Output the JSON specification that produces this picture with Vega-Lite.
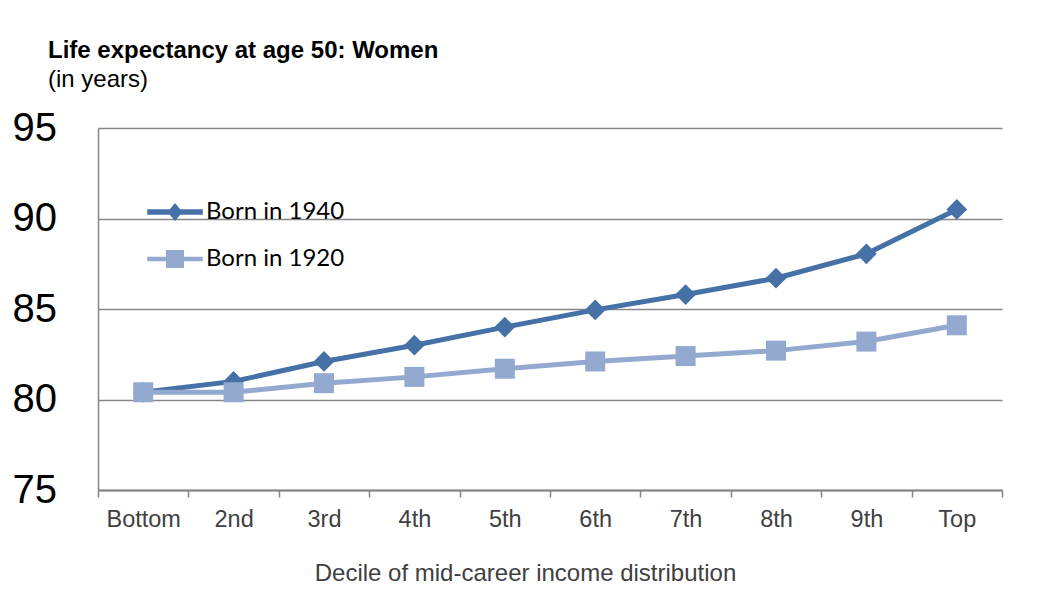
{
  "$schema": "https://vega.github.io/schema/vega-lite/v6.json",
  "width": 904,
  "height": 362,
  "padding": {"left": 12, "top": 39, "right": 40, "bottom": 10},
  "background": "white",
  "config": {
    "view": {"stroke": null},
    "font": "Liberation Sans"
  },
  "title": {
    "text": "Life expectancy at age 50: Women",
    "subtitle": "(in years)",
    "anchor": "start",
    "frame": "group",
    "dx": -50,
    "offset": 16,
    "font": "Liberation Sans",
    "fontSize": 24,
    "fontWeight": "bold",
    "color": "#000000",
    "subtitleFont": "Liberation Sans",
    "subtitleFontSize": 24,
    "subtitleColor": "#000000",
    "subtitlePadding": 5
  },
  "data": {
    "values": [
      {"decile": "Bottom", "series": "Born in 1940", "years": 80.4},
      {"decile": "2nd", "series": "Born in 1940", "years": 81.0},
      {"decile": "3rd", "series": "Born in 1940", "years": 82.1},
      {"decile": "4th", "series": "Born in 1940", "years": 83.0},
      {"decile": "5th", "series": "Born in 1940", "years": 84.0},
      {"decile": "6th", "series": "Born in 1940", "years": 84.95},
      {"decile": "7th", "series": "Born in 1940", "years": 85.8},
      {"decile": "8th", "series": "Born in 1940", "years": 86.7},
      {"decile": "9th", "series": "Born in 1940", "years": 88.05},
      {"decile": "Top", "series": "Born in 1940", "years": 90.5},
      {"decile": "Bottom", "series": "Born in 1920", "years": 80.4},
      {"decile": "2nd", "series": "Born in 1920", "years": 80.4},
      {"decile": "3rd", "series": "Born in 1920", "years": 80.9},
      {"decile": "4th", "series": "Born in 1920", "years": 81.25},
      {"decile": "5th", "series": "Born in 1920", "years": 81.7},
      {"decile": "6th", "series": "Born in 1920", "years": 82.1},
      {"decile": "7th", "series": "Born in 1920", "years": 82.4},
      {"decile": "8th", "series": "Born in 1920", "years": 82.7},
      {"decile": "9th", "series": "Born in 1920", "years": 83.2},
      {"decile": "Top", "series": "Born in 1920", "years": 84.1}
    ]
  },
  "encoding": {
    "x": {
      "field": "decile",
      "type": "ordinal",
      "sort": ["Bottom", "2nd", "3rd", "4th", "5th", "6th", "7th", "8th", "9th", "Top"],
      "scale": {"type": "band", "paddingInner": 0, "paddingOuter": 0},
      "axis": {
        "title": "Decile of mid-career income distribution",
        "titleX": 427,
        "labelAngle": 0,
        "tickBand": "extent",
        "grid": false,
        "domainColor": "#868686",
        "domainWidth": 2,
        "tickColor": "#868686",
        "tickWidth": 1.5,
        "tickSize": 7,
        "labelFont": "Liberation Sans",
        "labelFontSize": 23.5,
        "labelColor": "#404040",
        "labelPadding": 10,
        "titleFont": "Liberation Sans",
        "titleFontSize": 24,
        "titleFontWeight": "normal",
        "titleColor": "#404040",
        "titlePadding": 31
      }
    },
    "y": {
      "field": "years",
      "type": "quantitative",
      "scale": {"domain": [75, 95], "nice": false, "zero": false},
      "axis": {
        "title": null,
        "values": [75, 80, 85, 90, 95],
        "ticks": false,
        "labelAlign": "left",
        "labelBaseline": "middle",
        "labelPadding": 86,
        "labelFont": "Liberation Sans",
        "labelFontSize": 40,
        "labelColor": "#000000",
        "labelOverlap": false,
        "labelFlush": false,
        "domainColor": "#868686",
        "domainWidth": 1.5,
        "gridColor": "#868686",
        "gridWidth": 1.5,
        "gridOpacity": 1
      }
    },
    "color": {
      "field": "series",
      "type": "nominal",
      "scale": {"domain": ["Born in 1940", "Born in 1920"], "range": ["#4571A7", "#93A9CF"]},
      "legend": {
        "title": null,
        "orient": "none",
        "legendX": 62,
        "legendY": 69,
        "symbolSize": 900,
        "rowPadding": 20,
        "labelOffset": 16,
        "labelFont": "Lato",
        "labelFontSize": 24,
        "labelColor": "#000000",
        "labelLimit": 400,
        "encode": {
          "symbols": {
            "update": {
              "shape": {"signal": "datum.value === 'Born in 1940' ? 'M-1.85,-0.18H1.85V0.18H-1.85Z M0,-0.6L0.5,0L0,0.6L-0.5,0Z' : 'M-1.85,-0.15H1.85V0.15H-1.85Z M-0.6,-0.6H0.6V0.6H-0.6Z'"},
              "fill": {"signal": "datum.value === 'Born in 1940' ? '#4571A7' : '#93A9CF'"},
              "fillOpacity": {"value": 1},
              "opacity": {"value": 1},
              "strokeWidth": {"value": 0}
            }
          }
        }
      }
    }
  },
  "layer": [
    {
      "transform": [{"filter": "datum.series === 'Born in 1940'"}],
      "mark": {"type": "line", "strokeWidth": 5, "point": {"filled": true, "shape": "diamond", "size": 430, "opacity": 1}}
    },
    {
      "transform": [{"filter": "datum.series === 'Born in 1920'"}],
      "mark": {"type": "line", "strokeWidth": 5, "point": {"filled": true, "shape": "square", "size": 400, "opacity": 1}}
    }
  ]
}
